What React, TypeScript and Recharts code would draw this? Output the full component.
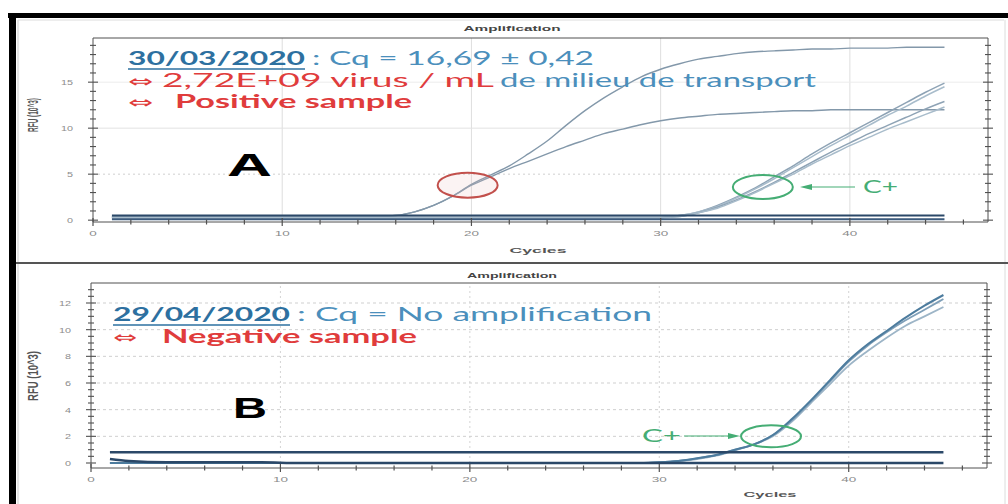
import React from 'react';
import { LineChart, Line, XAxis, YAxis, ReferenceLine, ReferenceDot } from 'recharts';

// ---- panel A : 30/03/2020 (positive) ----
const flatCycles = [1, 45];
const baseA1 = [0.5, 0.5];
const baseA2 = [0.1, 0.1];

const sampleCycles = [1, 15, 16, 17, 18, 19, 20, 21, 22, 23, 24, 25, 26, 27, 28, 29, 30, 31, 32, 33, 34, 35, 36, 37, 38, 39, 40, 41, 42, 43, 44, 45];
const sampleHigh = [0.4, 0.4, 0.5, 0.9, 1.6, 2.6, 3.9, 4.9, 5.9, 7.2, 8.6, 10.3, 11.9, 13.3, 14.5, 15.6, 16.4, 17.0, 17.5, 17.8, 18.1, 18.3, 18.4, 18.5, 18.6, 18.6, 18.7, 18.7, 18.7, 18.8, 18.8, 18.8];
const sampleLow = [0.4, 0.4, 0.5, 0.9, 1.6, 2.6, 3.8, 4.7, 5.6, 6.4, 7.2, 8.0, 8.7, 9.4, 9.9, 10.4, 10.8, 11.1, 11.3, 11.5, 11.6, 11.7, 11.8, 11.9, 11.9, 12.0, 12.0, 12.0, 12.0, 12.0, 12.0, 12.0];

const ctrlCyclesA = [1, 30, 31, 32, 33, 34, 35, 36, 37, 38, 39, 40, 41, 42, 43, 44, 45];
const ctrlA1 = [0.3, 0.3, 0.5, 0.9, 1.6, 2.5, 3.5, 4.7, 5.9, 7.2, 8.4, 9.5, 10.6, 11.7, 12.8, 13.9, 14.9];
const ctrlA2 = [0.3, 0.3, 0.5, 0.9, 1.5, 2.4, 3.4, 4.5, 5.7, 6.9, 8.1, 9.2, 10.3, 11.4, 12.4, 13.5, 14.5];
const ctrlA3 = [0.3, 0.3, 0.4, 0.8, 1.4, 2.2, 3.1, 4.1, 5.2, 6.3, 7.4, 8.4, 9.4, 10.3, 11.2, 12.1, 12.9];
const ctrlA4 = [0.3, 0.3, 0.4, 0.8, 1.3, 2.1, 3.0, 4.0, 5.0, 6.1, 7.1, 8.1, 9.0, 9.9, 10.7, 11.5, 12.3];

// ---- panel B : 29/04/2020 (negative) ----
const flatB = [0.8, 0.8];
const baseCyclesB = [1, 2, 3, 5, 9, 11, 45];
const baseB = [0.3, 0.15, 0.08, 0.05, 0.05, 0.0, 0.0];

const ctrlCyclesB = [1, 29, 30, 31, 32, 33, 34, 35, 36, 37, 38, 39, 40, 41, 42, 43, 44, 45];
const ctrlB1 = [0.0, 0.0, 0.05, 0.15, 0.35, 0.6, 1.0, 1.4, 2.1, 3.3, 4.7, 6.2, 7.7, 8.9, 9.9, 10.9, 11.8, 12.6];
const ctrlB2 = [0.0, 0.0, 0.05, 0.15, 0.35, 0.6, 1.0, 1.4, 2.1, 3.2, 4.6, 6.1, 7.6, 8.8, 9.8, 10.7, 11.5, 12.3];
const ctrlB3 = [0.0, 0.0, 0.05, 0.15, 0.3, 0.55, 0.95, 1.4, 2.0, 3.1, 4.5, 5.9, 7.3, 8.4, 9.4, 10.3, 11.0, 11.7];

// ---- ticks ----
const xMinor = [0, 2, 4, 6, 8, 10, 12, 14, 16, 18, 20, 22, 24, 26, 28, 30, 32, 34, 36, 38, 40, 42, 44, 46];
const xMajor = [0, 10, 20, 30, 40];
const yMinorA = [0, 1, 2, 3, 4, 5, 6, 7, 8, 9, 10, 11, 12, 13, 14, 15, 16, 17, 18, 19];
const yMajorA = [0, 5, 10, 15];
const yMinorB = [0, 0.5, 1, 1.5, 2, 2.5, 3, 3.5, 4, 4.5, 5, 5.5, 6, 6.5, 7, 7.5, 8, 8.5, 9, 9.5, 10, 10.5, 11, 11.5, 12, 12.5, 13];
const yMajorB = [0, 2, 4, 6, 8, 10, 12];

const toPts = (cs: number[], vs: number[]) => cs.map((c, i) => ({ c, v: vs[i] }));

const AX = '#505050';
const TICK_FONT = 'Arial, "Liberation Sans", sans-serif';
const TXT_FONT = 'Lato, "Open Sans", sans-serif';
const ARROW_FONT = '"DejaVu Sans", sans-serif';

function xTick(majors: number[], labels: boolean) {
  return (p: any) => {
    const v = p.payload.value;
    const major = majors.includes(v);
    const len = major ? 4 : 2.5;
    return (
      <g>
        <line x1={p.x} x2={p.x} y1={p.y - len} y2={p.y + len} stroke={AX} strokeWidth={1.2} />
        {labels && major && (
          <text x={p.x} y={p.y + 14} textAnchor="middle" fontSize={8} fill="#8c8c8c" fontFamily={TICK_FONT}
            textLength={String(v).length * 7.5} lengthAdjust="spacingAndGlyphs">{v}</text>
        )}
      </g>
    );
  };
}

function yTick(majors: number[], labels: boolean) {
  return (p: any) => {
    const v = p.payload.value;
    const major = majors.includes(v);
    const len = major ? 5 : 3;
    return (
      <g>
        <line x1={p.x - len} x2={p.x + len} y1={p.y} y2={p.y} stroke={AX} strokeWidth={1.1} />
        {labels && major && (
          <text x={p.x - 20} y={p.y + 3} textAnchor="end" fontSize={8} fill="#8c8c8c" fontFamily={TICK_FONT}
            textLength={String(v).length * 6} lengthAdjust="spacingAndGlyphs">{v}</text>
        )}
      </g>
    );
  };
}

const ring = (stroke: string, fill: string, rx: number, ry: number) => (p: any) => (
  <ellipse cx={p.cx} cy={p.cy} rx={rx} ry={ry} stroke={stroke} strokeWidth={2} fill={fill} />
);

function curve(key: string, pts: { c: number; v: number }[], stroke: string, width: number) {
  return (
    <Line key={key} xAxisId="x" yAxisId="y" data={pts} dataKey="v" type="monotone" dot={false}
      activeDot={false} stroke={stroke} strokeWidth={width} isAnimationActive={false} />
  );
}

function S(props: { x: number; y: number; w: number; size: number; fill: string; weight?: number | string; anchor?: string; font?: string; children: React.ReactNode }) {
  return (
    <text x={props.x} y={props.y} fontSize={props.size} fill={props.fill} fontWeight={props.weight ?? 400}
      fontFamily={props.font ?? TXT_FONT} textAnchor={props.anchor ?? 'start'} textLength={props.w}
      lengthAdjust="spacingAndGlyphs">{props.children}</text>
  );
}

const BLUE_D = '#2d70a0';
const BLUE = '#4b8fbc';
const RED = '#e03c3c';
const GREEN = '#45ad74';

function axes(dom: number[], yMinor: number[], yMajor: number[]) {
  const xDomain = [0, 47.3];
  return [
    <XAxis key="ax" xAxisId="x" dataKey="c" type="number" domain={xDomain} ticks={xMinor} interval={0}
      allowDataOverflow height={1} tickSize={0} tickMargin={0} tickLine={false}
      axisLine={{ stroke: AX }} tick={xTick(xMajor, true)} />,
    <XAxis key="at" xAxisId="t" orientation="top" type="number" domain={xDomain} ticks={xMinor} interval={0}
      allowDataOverflow height={1} tickSize={0} tickMargin={0} tickLine={false}
      axisLine={{ stroke: AX }} tick={xTick(xMajor, false)} />,
    <YAxis key="ay" yAxisId="y" type="number" domain={dom} ticks={yMinor} interval={0} allowDataOverflow
      width={1} tickSize={0} tickMargin={0} tickLine={false} axisLine={{ stroke: AX }} tick={yTick(yMajor, true)} />,
    <YAxis key="ar" yAxisId="r" orientation="right" type="number" domain={dom} ticks={yMinor} interval={0} allowDataOverflow
      width={1} tickSize={0} tickMargin={0} tickLine={false} axisLine={{ stroke: AX }} tick={yTick(yMajor, false)} />,
  ];
}

export default function App() {
  const domA = [-0.2, 19.8];
  const domB = [-0.375, 13.5];

  return (
    <div style={{ position: 'absolute', left: 0, top: 0, width: 1008, height: 504, background: '#fff', overflow: 'hidden' }}>
      {/* panel A */}
      <div style={{ position: 'absolute', left: 0, top: 0 }}>
        <LineChart width={1008} height={263} margin={{ top: 37, right: 19, bottom: 40, left: 92 }}>
          {axes(domA, yMinorA, yMajorA)}
          {[10, 20, 30, 40].map(v => (
            <ReferenceLine key={'vx' + v} xAxisId="x" yAxisId="y" x={v} stroke="#dedede" />
          ))}
          <ReferenceLine xAxisId="x" yAxisId="y" y={5} stroke="#cfcfcf" strokeDasharray="2 3" />
          <ReferenceLine xAxisId="x" yAxisId="y" y={10} stroke="#e2e2e2" />
          <ReferenceLine xAxisId="x" yAxisId="y" y={15} stroke="#ececec" />
          {curve('s1', toPts(sampleCycles, sampleHigh), '#8398aa', 1.4)}
          {curve('s2', toPts(sampleCycles, sampleLow), '#8398aa', 1.4)}
          {curve('c1', toPts(ctrlCyclesA, ctrlA1), '#8ea3b5', 1.5)}
          {curve('c2', toPts(ctrlCyclesA, ctrlA2), '#a8bccb', 1.5)}
          {curve('c3', toPts(ctrlCyclesA, ctrlA3), '#8ea3b5', 1.5)}
          {curve('c4', toPts(ctrlCyclesA, ctrlA4), '#a8bccb', 1.5)}
          {curve('b1', toPts(flatCycles, baseA1), '#2b4868', 2)}
          {curve('b2', toPts(flatCycles, baseA2), '#3b5a7c', 2)}
          <ReferenceDot xAxisId="x" yAxisId="y" x={19.8} y={3.8} r={1} shape={ring('#c2504c', 'rgba(235,190,190,0.18)', 30, 12.5)} />
          <ReferenceDot xAxisId="x" yAxisId="y" x={35.4} y={3.6} r={1} shape={ring(GREEN, 'none', 30, 12)} />
        </LineChart>
      </div>

      {/* panel B */}
      <div style={{ position: 'absolute', left: 0, top: 263 }}>
        <LineChart width={1008} height={241} margin={{ top: 19, right: 20, bottom: 35, left: 90 }}>
          {axes(domB, yMinorB, yMajorB)}
          {[10, 20, 30, 40].map(v => (
            <ReferenceLine key={'vx' + v} xAxisId="x" yAxisId="y" x={v} stroke="#d4d4d4" strokeDasharray="2 3" />
          ))}
          {[2, 4, 6, 8, 10, 12].map(v => (
            <ReferenceLine key={'hy' + v} xAxisId="x" yAxisId="y" y={v} stroke="#cfcfcf" strokeDasharray="3 3" />
          ))}
          {curve('d3', toPts(ctrlCyclesB, ctrlB3), '#9db5c7', 1.8)}
          {curve('d2', toPts(ctrlCyclesB, ctrlB2), '#7f9fb8', 1.8)}
          {curve('d1', toPts(ctrlCyclesB, ctrlB1), '#4d7c9e', 2)}
          {curve('f1', toPts(flatCycles, flatB), '#2b4868', 2.5)}
          {curve('g1', toPts(baseCyclesB, baseB), '#2b4868', 2.5)}
          <ReferenceDot xAxisId="x" yAxisId="y" x={35.9} y={2.0} r={1} shape={ring(GREEN, 'none', 30, 11)} />
        </LineChart>
      </div>

      {/* frame, titles and annotations */}
      <svg width={1008} height={504} style={{ position: 'absolute', left: 0, top: 0, pointerEvents: 'none' }}>
        <rect x={8} y={13} width={1000} height={5} fill="#000" />
        <rect x={9} y={13} width={7} height={491} fill="#000" />
        <line x1={18} x2={18} y1={20} y2={504} stroke="#cfcfcf" />
        <line x1={18} x2={1004} y1={20} y2={20} stroke="#dcdcdc" />
        <line x1={1005} x2={1005} y1={20} y2={504} stroke="#dcdcdc" />
        <rect x={16} y={262} width={992} height={2} fill="#555" />

        {/* panel A texts */}
        <S x={512} y={31} w={97} size={8} fill="#444" weight={700} anchor="middle" font={TICK_FONT}>Amplification</S>
        <S x={538} y={253} w={57} size={8} fill="#555" weight={700} anchor="middle" font={TICK_FONT}>Cycles</S>
        <g transform="translate(38,115) scale(2,1) rotate(-90)">
          <text x={0} y={0} fontSize={7} fill="#555" fontWeight={700} fontFamily={TICK_FONT} textAnchor="middle"
            textLength={34} lengthAdjust="spacingAndGlyphs">RFU (10^3)</text>
        </g>
        <S x={128} y={65} w={177} size={19} fill={BLUE_D} weight={700}>30/03/2020</S>
        <line x1={128} x2={305} y1={69} y2={69} stroke={BLUE_D} strokeWidth={1.5} />
        <S x={312} y={65} w={282} size={19} fill={BLUE}>: Cq = 16,69 ± 0,42</S>
        <S x={128} y={87} w={25} size={17} fill={RED} font={ARROW_FONT}>⇔</S>
        <S x={162} y={87} w={332} size={19} fill={RED}>2,72E+09 virus / mL</S>
        <S x={500} y={87} w={316} size={19} fill={BLUE}>de milieu de transport</S>
        <S x={128} y={108} w={25} size={17} fill={RED} font={ARROW_FONT}>⇔</S>
        <S x={175} y={108} w={237} size={19} fill={RED} weight={700}>Positive sample</S>
        <S x={227} y={176} w={45} size={32} fill="#000" weight={700} font={TICK_FONT}>A</S>
        <line x1={812} x2={855} y1={187} y2={187} stroke={GREEN} strokeWidth={1.2} />
        <polygon points="800,187 812,184 812,190" fill={GREEN} />
        <S x={863} y={193} w={35} size={17} fill={GREEN}>C+</S>

        {/* panel B texts */}
        <S x={512} y={278} w={90} size={8} fill="#444" weight={700} anchor="middle" font={TICK_FONT}>Amplification</S>
        <S x={770} y={497} w={53} size={8} fill="#555" weight={700} anchor="middle" font={TICK_FONT}>Cycles</S>
        <g transform="translate(38,376) scale(2,1) rotate(-90)">
          <text x={0} y={0} fontSize={7} fill="#555" fontWeight={700} fontFamily={TICK_FONT} textAnchor="middle"
            textLength={50} lengthAdjust="spacingAndGlyphs">RFU (10^3)</text>
        </g>
        <S x={113} y={321} w={177} size={19} fill={BLUE_D} weight={700}>29/04/2020</S>
        <line x1={113} x2={290} y1={325} y2={325} stroke={BLUE_D} strokeWidth={1.5} />
        <S x={297} y={321} w={355} size={19} fill={BLUE}>: Cq = No amplification</S>
        <S x={113} y={343} w={24} size={17} fill={RED} font={ARROW_FONT}>⇔</S>
        <S x={162} y={343} w={255} size={19} fill={RED} weight={700}>Negative sample</S>
        <S x={233} y={418} w={34} size={30} fill="#000" weight={700} font={TICK_FONT}>B</S>
        <S x={642} y={442} w={39} size={17} fill={GREEN}>C+</S>
        <line x1={684} x2={728} y1={436} y2={436} stroke={GREEN} strokeWidth={1.2} />
        <polygon points="740,436 728,433 728,439" fill={GREEN} />
      </svg>
    </div>
  );
}
